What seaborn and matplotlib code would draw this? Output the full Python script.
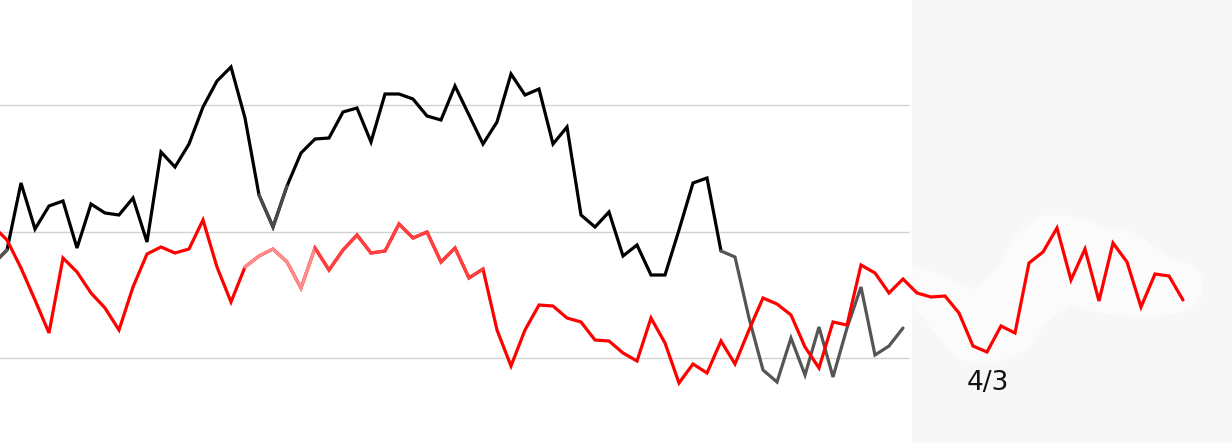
import numpy as np
import pandas as pd
import matplotlib
matplotlib.use("Agg")
import matplotlib.pyplot as plt
import seaborn as sns

# ---- data (index positions) ----
black_vals = [179, 193, 260, 214, 237, 242, 195, 239, 230, 228, 245, 201, 291, 276, 299,
              336, 362, 376, 325, 248, 216, 257, 290, 304, 305, 331, 335, 301, 349, 349,
              344, 327, 323, 357, 328, 299, 321, 369, 348, 354, 299, 316, 228, 216, 231,
              187, 198, 168, 168, 213, 260, 265, 192, 186, 125, 73, 61, 105, 68, 116,
              66, 115, 156, 88, 97, 115]
red_vals = [217, 203, 175, 143, 110, 185, 171, 150, 135, 113, 156, 189, 196, 190, 194,
            223, 176, 141, 176, 187, 194, 181, 155, 195, 173, 193, 208, 190, 192, 219,
            205, 211, 181, 195, 165, 174, 113, 77, 113, 138, 137, 125, 121, 103, 102,
            90, 82, 125, 100, 60, 79, 70, 102, 79, 113, 145, 139, 128, 96, 75,
            121, 118, 178, 170, 150, 164, 150, 146, 147, 130, 97, 91, 117, 110, 180,
            191, 215, 163, 194, 142, 200, 181, 136, 169, 167, 143]
grid_levels = [85, 211, 338]
tick_label = "4/3"
tick_index = 70

black = pd.DataFrame({"i": np.arange(-1, len(black_vals) - 1), "v": black_vals})
red = pd.DataFrame({"i": np.arange(-1, len(red_vals) - 1), "v": red_vals})

sns.set_theme(style="white")
plt.rcParams['font.family'] = ['DejaVu Sans']

fig = plt.figure(figsize=(12.32, 4.43), dpi=100)
ax = fig.add_axes([0, 0, 1, 1])
ax.set_facecolor("white")
ax.set_xlim(-0.5, 87.5)
ax.set_ylim(0, 443)

panel_start = 64.64
ax.axvspan(panel_start, 90, color="#f7f7f7", zorder=0, lw=0)

for g in grid_levels:
    ax.hlines(g, -1, 64.4, color="#d2d2d2", lw=1.0, zorder=1)

# soft white halo around the red line inside the right panel (envelope of the data)
ri = red.i.to_numpy(dtype=float)
rv = red.v.to_numpy(dtype=float)
last = ri.max()
xs = np.linspace(panel_start, last + 1.4, 500)
up = np.empty_like(xs)
lo = np.empty_like(xs)
for k, x in enumerate(xs):
    m = (ri >= x - 2.5) & (ri <= x + 2.5)
    up[k] = rv[m].max() + 13
    lo[k] = rv[m].min() - 9
kern = np.ones(71) / 71
pad_up = np.pad(up, 35, mode="edge")
pad_lo = np.pad(lo, 35, mode="edge")
up = np.convolve(pad_up, kern, mode="valid")
lo = np.convolve(pad_lo, kern, mode="valid")
cen = (up + lo) / 2
half = (up - lo) / 2
t = np.clip((xs - last) / 1.4, 0, 1)
half = half * np.sqrt(1 - t ** 2)
ax.fill_between(xs, cen - half, cen + half, color="#fbfbfb", lw=0, zorder=1.5)

LW = 2.3
def seg(df, a, b, color, z):
    d = df[(df.i >= a) & (df.i <= b)]
    sns.lineplot(data=d, x="i", y="v", ax=ax, color=color, lw=LW, zorder=z,
                 solid_joinstyle="miter", sort=False)

# black series (with grey parts)
seg(black, -1, 51, "#000000", 3)
seg(black, -1, 0, "#555555", 3.1)
seg(black, 18, 20, "#4a4a4a", 3.1)
seg(black, 51, 64, "#555555", 3.1)

# red series (with faded part)
seg(red, -1, 84, "#ff0000", 4)
seg(red, 17, 22, "#ff8c8c", 4.1)
seg(red, 22, 34, "#ff4040", 4.1)

ax.text(tick_index + 0.05, 60, tick_label, ha="center", va="center", fontsize=19,
        color="#111111")

ax.set_xlabel("")
ax.set_ylabel("")
ax.set_xticks([])
ax.set_yticks([])
for s in ax.spines.values():
    s.set_visible(False)
if ax.get_legend():
    ax.get_legend().remove()

fig.savefig("out.png", dpi=100)
